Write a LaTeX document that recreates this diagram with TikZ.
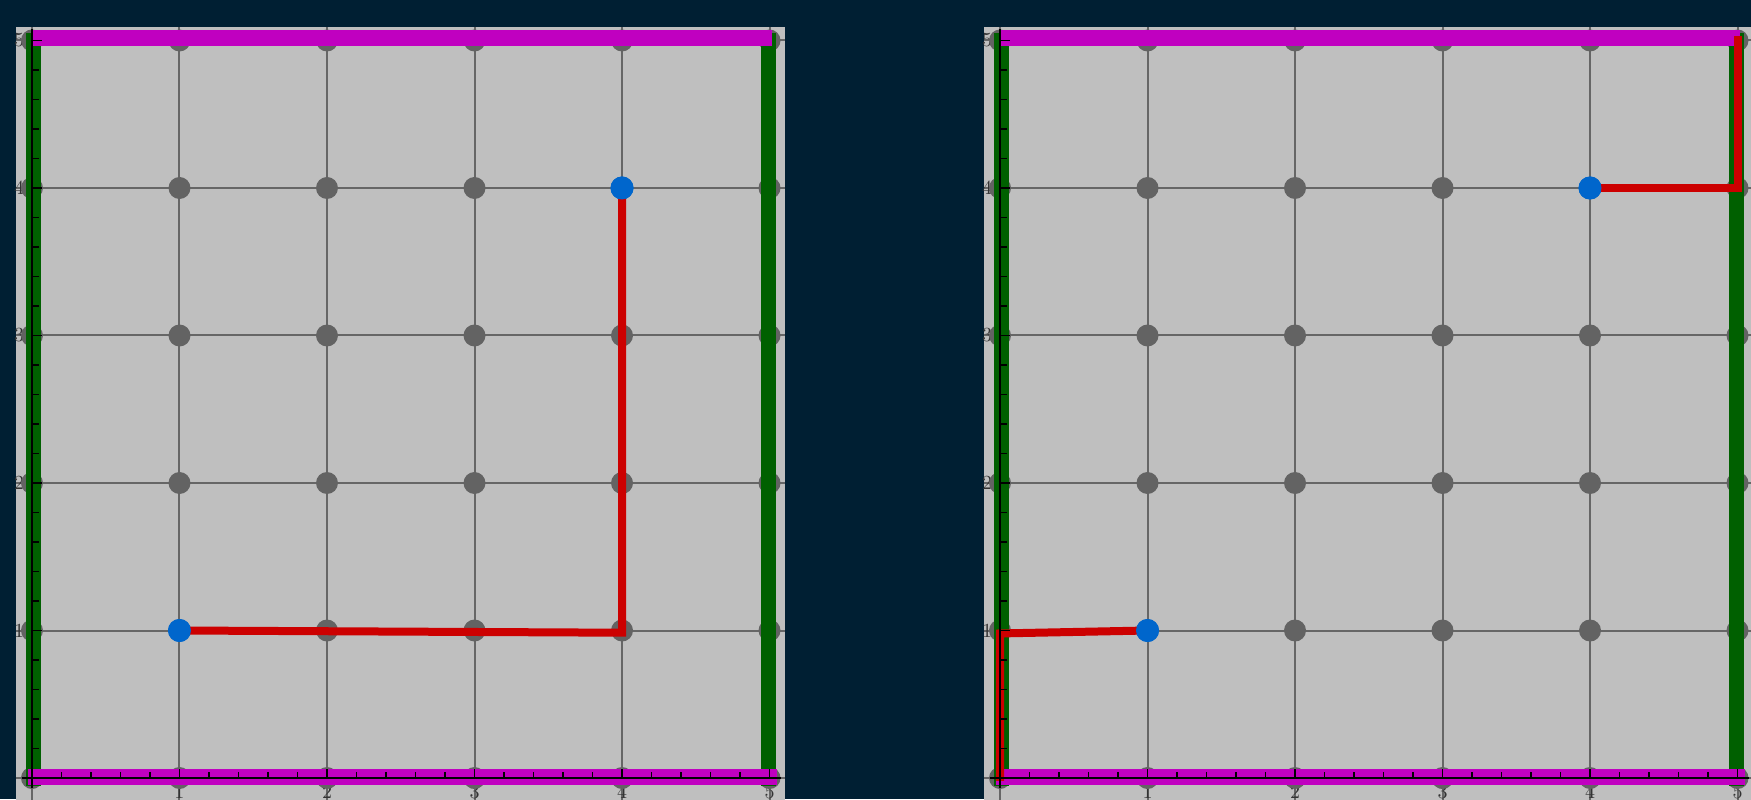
\documentclass[tikz,border=0pt]{standalone}
\definecolor{bg}{HTML}{001F33}
\definecolor{panelgray}{HTML}{BFBFBF}
\definecolor{gridgray}{HTML}{666666}
\definecolor{dotgray}{HTML}{636363}
\definecolor{magline}{HTML}{C000C0}
\definecolor{grnline}{HTML}{006000}
\definecolor{redline}{HTML}{CC0000}
\definecolor{bluedot}{HTML}{0066CC}
\definecolor{labgray}{HTML}{333333}
\tikzset{
  gridln/.style={draw=gridgray, line width=1pt},
  gdot/.style={circle, fill=dotgray, inner sep=0pt, minimum size=11pt},
  bdot/.style={circle, fill=bluedot, inner sep=0pt, minimum size=11.5pt},
  greenln/.style={draw=grnline, line width=7.5pt, line cap=rect},
  magentaln/.style={draw=magline, line width=8pt},
  axisln/.style={draw=black, line width=1pt},
  tickln/.style={draw=black, line width=0.9pt},
  redpath/.style={draw=redline, line width=4pt, line join=miter},
  ticklab/.style={text=labgray, font=\fontsize{10}{12}\selectfont, inner sep=0pt},
}
\newcommand\mypanel[2]{%
  \begin{scope}[shift={(#1,0)}]
    \fill[panelgray] (-0.1085,-0.2) rectangle (#2,5.0915);
    \foreach \g in {0,...,5} {
      \draw[gridln] (\g,-0.2) -- (\g,5.0915);
      \draw[gridln] (-0.1085,\g) -- (#2,\g);
    }
    \foreach \g in {1,...,5} {
      \node[ticklab] at (-0.088,\g) {\g};
      \node[ticklab] at (\g,-0.095) {\g};
    }
    \foreach \gx in {0,...,5} {
      \foreach \gy in {0,...,5} {
        \node[gdot] at (\gx,\gy) {};
      }
    }
    \draw[greenln] (0.01,0) -- (0.01,5);
    \draw[greenln] (4.995,0) -- (4.995,5);
    \draw[magentaln] (0,5.02) -- (5.02,5.02);
    \draw[magentaln] (-0.03,0.01) -- (5.05,0.01);
  \end{scope}
}
\newcommand\myaxes[1]{%
  \begin{scope}[shift={(#1,0)}]
    \draw[axisln] (-0.07,0) -- (5.08,0);
    \draw[axisln] (0,-0.07) -- (0,5.08);
    \foreach \t in {1,...,25} {
      \draw[tickln] (\t*0.2,0) -- ++(0,3pt);
      \draw[tickln] (0,\t*0.2) -- ++(3.5pt,0);
    }
    \foreach \t in {1,...,5} {
      \draw[tickln] (\t,0) -- ++(0,4.5pt);
      \draw[tickln] (0,\t) -- ++(5pt,0);
    }
  \end{scope}
}
\begin{document}
\begin{tikzpicture}[x=73.75pt,y=73.75pt]
  \useasboundingbox (-0.2169,-0.1424) rectangle (11.6542,5.2746);
  \fill[bg] (-0.2169,-0.1424) rectangle (11.6542,5.2746);
  % left panel
  \mypanel{0}{5.105}
  \begin{scope}
    \node[bdot] (LA) at (1,1) {};
    \node[bdot] (LB) at (4,4) {};
    \coordinate (LC) at (4,0.985);
    \draw[redpath] (LA.center) -- (LC) -- (LB.center);
    \node[bdot] at (LA) {};
    \node[bdot] at (LB) {};
  \end{scope}
  \myaxes{0}
  % right panel
  \mypanel{6.5627}{5.0915}
  \begin{scope}[shift={(6.5627,0)}]
    \node[bdot] (RA) at (1,1) {};
    \node[bdot] (RB) at (4,4) {};
    \coordinate (RC) at (0,0.98);
    \coordinate (RD) at (0,-0.02);
    \coordinate (RE) at (5,4);
    \coordinate (RF) at (5,5.03);
    \draw[redpath] (RA.center) -- (RC) -- (RD);
    \draw[redpath] (RB.center) -- (RE) -- (RF);
  \end{scope}
  \myaxes{6.5627}
  \begin{scope}[shift={(6.5627,0)}]
    \node[bdot] at (1,1) {};
    \node[bdot] at (4,4) {};
  \end{scope}
\end{tikzpicture}
\end{document}
